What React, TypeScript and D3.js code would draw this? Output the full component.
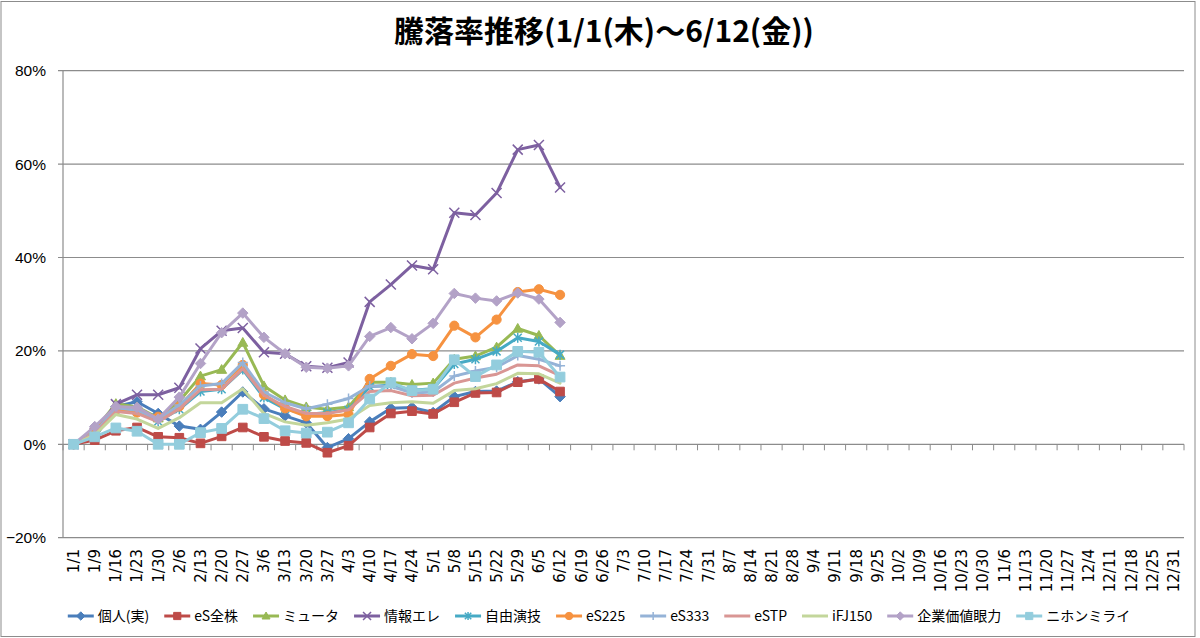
import { useEffect, useRef } from 'react';
import * as d3 from 'd3';

const categories = [
  '1/1', '1/9', '1/16', '1/23', '1/30', '2/6', '2/13', '2/20', '2/27', '3/6', '3/13', '3/20', '3/27',
  '4/3', '4/10', '4/17', '4/24', '5/1', '5/8', '5/15', '5/22', '5/29', '6/5', '6/12', '6/19', '6/26',
  '7/3', '7/10', '7/17', '7/24', '7/31', '8/7', '8/14', '8/21', '8/28', '9/4', '9/11', '9/18', '9/25',
  '10/2', '10/9', '10/16', '10/23', '10/30', '11/6', '11/13', '11/20', '11/27', '12/4', '12/11',
  '12/18', '12/25', '12/31',
];

// values in %, one per week from 1/1 to 6/12
const kojin = [0, 1.4, 8.1, 9.1, 6.6, 3.9, 3.2, 6.9, 11.2, 7.6, 6.1, 4.6, -0.7, 1.2, 4.8, 7.7, 7.9, 6.8, 10.2, 11.3, 11.4, 13.4, 14.0, 10.2];
const esZenkabu = [0, 0.9, 2.9, 3.6, 1.6, 1.4, 0.2, 1.7, 3.6, 1.6, 0.7, 0.3, -1.8, -0.3, 3.6, 6.6, 7.1, 6.5, 9.0, 11.0, 11.1, 13.3, 14.0, 11.3];
const myuta = [0, 3.0, 8.7, 8.0, 5.6, 9.2, 14.6, 16.0, 21.8, 12.5, 9.5, 8.0, 7.5, 8.0, 13.3, 13.3, 12.8, 13.1, 18.2, 18.9, 20.8, 24.8, 23.3, 19.0];
const johoEre = [0, 2.5, 8.6, 10.6, 10.6, 12.1, 20.5, 24.3, 24.9, 19.7, 19.4, 16.7, 16.4, 17.5, 30.5, 34.2, 38.3, 37.5, 49.6, 49.1, 53.8, 63.1, 64.1, 55.0];
const jiyuEngi = [0, 2.5, 7.5, 7.0, 4.9, 7.5, 11.3, 11.8, 16.0, 10.0, 7.6, 6.4, 6.8, 7.4, 12.3, 12.7, 11.6, 11.9, 17.2, 18.2, 19.9, 22.8, 22.0, 19.2];
const es225 = [0, 3.0, 7.4, 6.8, 5.9, 8.1, 13.0, 12.7, 17.0, 10.6, 7.7, 6.0, 6.0, 6.4, 14.0, 16.8, 19.3, 18.9, 25.4, 22.9, 26.7, 32.6, 33.2, 32.0];
const es333 = [0, 2.5, 7.8, 7.3, 5.3, 8.4, 12.5, 13.0, 17.5, 11.2, 8.9, 7.6, 8.6, 9.8, 12.5, 12.4, 11.0, 11.2, 14.6, 15.7, 16.5, 19.0, 18.2, 16.8];
const estp = [0, 2.3, 7.0, 6.6, 4.8, 7.6, 11.7, 11.8, 16.2, 10.5, 8.1, 6.6, 6.6, 7.4, 11.3, 11.5, 10.4, 10.5, 13.1, 14.2, 15.0, 17.0, 16.8, 14.7];
const ifj150 = [0, 2.0, 6.4, 5.4, 3.4, 5.7, 8.9, 8.9, 11.9, 6.6, 4.8, 4.1, 4.6, 5.4, 8.3, 8.9, 9.1, 8.8, 11.5, 11.9, 13.0, 15.2, 15.1, 13.1];
const kigyoKachi = [0, 3.8, 8.1, 7.9, 5.4, 10.1, 17.3, 23.9, 28.1, 22.9, 19.4, 16.5, 16.3, 16.8, 23.1, 25.0, 22.6, 25.9, 32.3, 31.3, 30.7, 32.4, 31.1, 26.1];
const nihonMirai = [0, 1.6, 3.5, 2.8, 0, 0, 2.5, 3.4, 7.5, 5.5, 2.9, 2.4, 2.6, 4.6, 9.7, 13.2, 11.5, 11.8, 18.1, 14.5, 17.0, 19.9, 19.7, 14.4];

const seriesNames = ['個人(実)', 'eS全株', 'ミュータ', '情報エレ', '自由演技', 'eS225', 'eS333', 'eSTP', 'iFJ150', '企業価値眼力', 'ニホンミライ'];
const seriesValues = [kojin, esZenkabu, myuta, johoEre, jiyuEngi, es225, es333, estp, ifj150, kigyoKachi, nihonMirai];
const seriesColors = ['#4A7EBB', '#BE4B48', '#98B954', '#7D60A0', '#46AAC5', '#F69240', '#95B3D7', '#D99694', '#C3D69B', '#B3A2C7', '#93CDDD'];
const seriesMarkers = ['diamond', 'square', 'triangle', 'x', 'star', 'circle', 'plus', 'none', 'none', 'diamond', 'square'];

const yTicks = [-0.2, 0, 0.2, 0.4, 0.6, 0.8];

const W = 1200;
const H = 638;
const plot = { left: 63, right: 1184, top: 70.7, bottom: 537.7 };
const gridColor = '#8C8C8C';

const filled = new Set(['diamond', 'square', 'triangle', 'circle']);

const markerPath = (type: string, s: number) => {
  switch (type) {
    case 'diamond':
      return `M0,${-s * 1.05}L${s * 1.05},0L0,${s * 1.05}L${-s * 1.05},0Z`;
    case 'square':
      return `M${-s * 0.9},${-s * 0.9}H${s * 0.9}V${s * 0.9}H${-s * 0.9}Z`;
    case 'triangle':
      return `M0,${-s}L${s},${s * 0.75}L${-s},${s * 0.75}Z`;
    case 'circle':
      return d3.symbol(d3.symbolCircle, Math.PI * s * s * 0.85)() as string;
    case 'x':
      return `M${-s},${-s}L${s},${s}M${-s},${s}L${s},${-s}`;
    case 'star':
      return `M${-s * 0.8},${-s * 0.8}L${s * 0.8},${s * 0.8}M${-s * 0.8},${s * 0.8}L${s * 0.8},${-s * 0.8}M0,${-s}V${s}`;
    case 'plus':
      return `M${-s},0H${s}M0,${-s}V${s}`;
    default:
      return '';
  }
};

const drawMarker = (g: any, type: string, color: string, cx: number, cy: number, s: number) => {
  if (type === 'none') return;
  const p = g
    .append('path')
    .attr('d', markerPath(type, s))
    .attr('transform', `translate(${cx},${cy})`)
    .attr('stroke', color);
  if (filled.has(type)) {
    p.attr('fill', color).attr('stroke-width', 1);
  } else {
    p.attr('fill', 'none').attr('stroke-width', 1.5);
  }
};

const App = () => {
  const ref = useRef<SVGSVGElement>(null);

  useEffect(() => {
    const svg = d3.select(ref.current);
    svg.selectAll('*').remove();

    svg
      .append('rect')
      .attr('x', 1)
      .attr('y', 1.5)
      .attr('width', 1194)
      .attr('height', 635)
      .attr('fill', '#fff')
      .attr('stroke', gridColor);

    // title
    svg
      .append('text')
      .attr('x', 604)
      .attr('y', 42)
      .attr('text-anchor', 'middle')
      .style('font', 'bold 30px "Noto Sans CJK JP", sans-serif')
      .text('騰落率推移(1/1(木)～6/12(金))');

    const x = d3.scaleBand().domain(categories).range([plot.left, plot.right]);
    const cx = (c: string) => (x(c) as number) + x.bandwidth() / 2;
    const y = d3.scaleLinear().domain([-0.2, 0.8]).range([plot.bottom, plot.top]);

    // gridlines + y tick marks
    svg
      .append('g')
      .selectAll('line')
      .data(yTicks)
      .enter()
      .append('line')
      .attr('x1', plot.left - 5)
      .attr('x2', plot.right)
      .attr('y1', (d) => y(d))
      .attr('y2', (d) => y(d))
      .attr('stroke', gridColor)
      .attr('stroke-width', 1.2);

    svg
      .append('g')
      .selectAll('text')
      .data(yTicks)
      .enter()
      .append('text')
      .attr('x', 46)
      .attr('y', (d) => y(d))
      .attr('dy', '0.35em')
      .attr('text-anchor', 'end')
      .style('font', '15.5px "Liberation Sans", sans-serif')
      .text((d) => d3.format('.0%')(d));

    // y axis line
    svg
      .append('line')
      .attr('x1', plot.left)
      .attr('x2', plot.left)
      .attr('y1', plot.top)
      .attr('y2', plot.bottom)
      .attr('stroke', gridColor)
      .attr('stroke-width', 1.2);

    // category ticks on the 0% line
    const boundaries = d3.range(categories.length + 1).map((i) => plot.left + i * x.step());
    svg
      .append('g')
      .selectAll('line')
      .data(boundaries)
      .enter()
      .append('line')
      .attr('x1', (d) => d)
      .attr('x2', (d) => d)
      .attr('y1', y(0))
      .attr('y2', y(0) + 6)
      .attr('stroke', gridColor)
      .attr('stroke-width', 1);

    // category labels
    svg
      .append('g')
      .selectAll('text')
      .data(categories)
      .enter()
      .append('text')
      .attr('transform', (d) => `translate(${cx(d)},549) rotate(-90)`)
      .attr('dy', '0.36em')
      .attr('text-anchor', 'end')
      .style('font', '15px "DejaVu Sans", sans-serif')
      .text((d) => d);

    // series
    const line = d3
      .line<number>()
      .x((_, i) => cx(categories[i]))
      .y((d) => y(d / 100));

    seriesValues.forEach((vals, si) => {
      const g = svg.append('g');
      g.append('path')
        .attr('d', line(vals) as string)
        .attr('fill', 'none')
        .attr('stroke', seriesColors[si])
        .attr('stroke-width', 3)
        .attr('stroke-linejoin', 'round')
        .attr('stroke-linecap', 'round');
      vals.forEach((v, i) => {
        const size = si === 10 ? 5.4 : seriesMarkers[si] === 'square' ? 4.8 : 5;
        drawMarker(g, seriesMarkers[si], seriesColors[si], cx(categories[i]), y(v / 100), size);
      });
    });

    // legend, laid out by measured text widths and centred
    const legend = svg.append('g');
    const ly = 616;
    const gap = 15;
    let lx = 0;
    seriesNames.forEach((name, si) => {
      const item = legend.append('g').attr('transform', `translate(${lx},0)`);
      item
        .append('line')
        .attr('x1', 0)
        .attr('x2', 26)
        .attr('y1', ly)
        .attr('y2', ly)
        .attr('stroke', seriesColors[si])
        .attr('stroke-width', 3);
      drawMarker(item, seriesMarkers[si], seriesColors[si], 13, ly, 4);
      const t = item
        .append('text')
        .attr('x', 30)
        .attr('y', ly)
        .attr('dy', '0.36em')
        .style('font', '14px "Noto Sans CJK JP", sans-serif')
        .text(name);
      const tw = (t.node() as SVGTextElement).getComputedTextLength();
      lx += 30 + tw + gap;
    });
    const total = lx - gap;
    legend.attr('transform', `translate(${599 - total / 2},0)`);
  }, []);

  return (
    <div>
      <style>{'body{margin:0}'}</style>
      <svg ref={ref} width={W} height={H} style={{ display: 'block' }} />
    </div>
  );
};

export default App;
